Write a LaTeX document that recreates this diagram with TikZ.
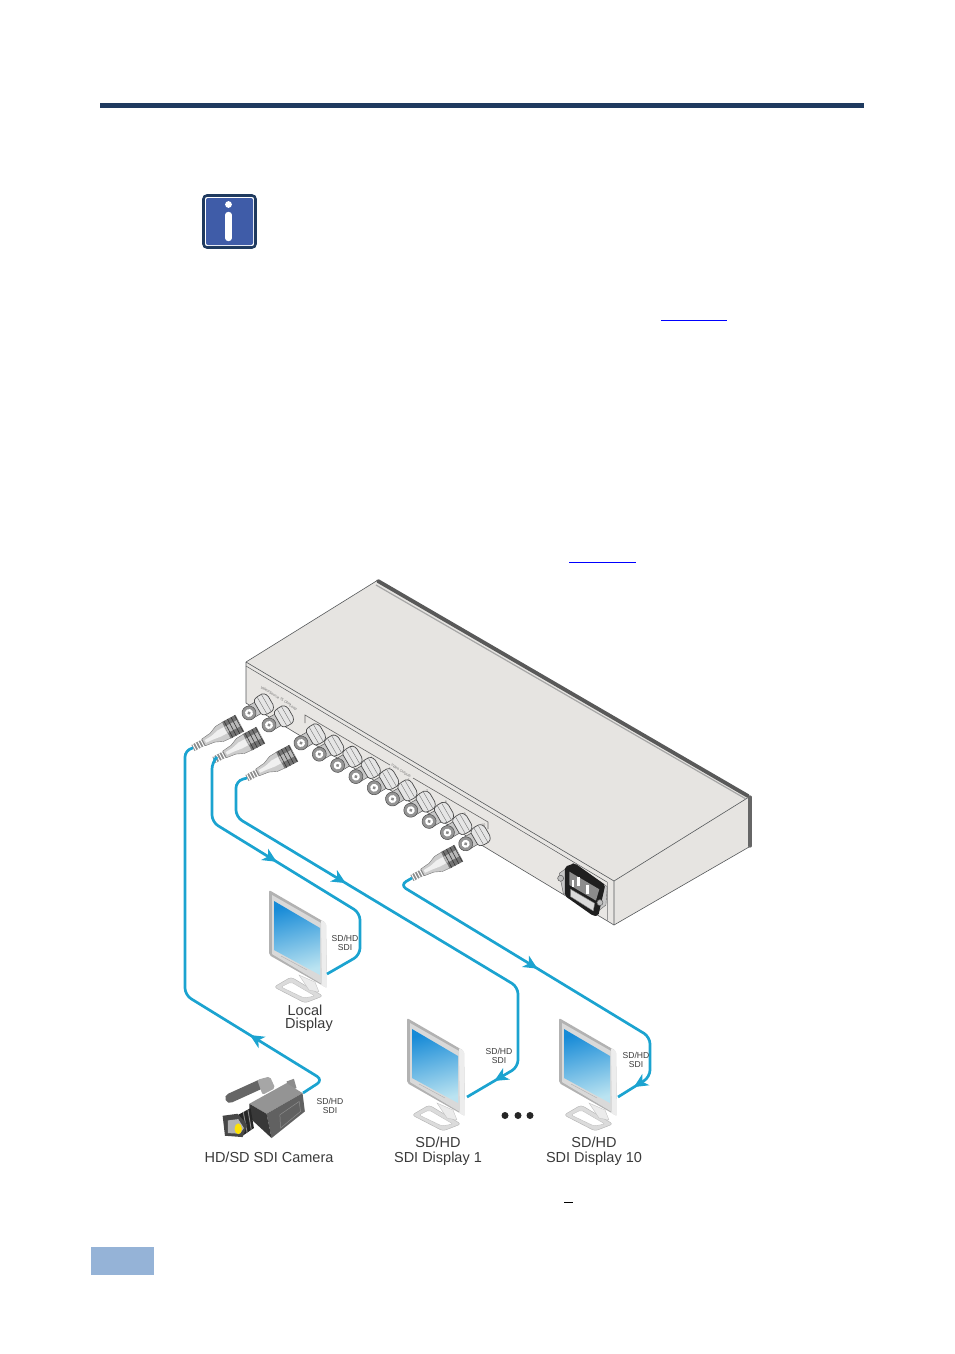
\documentclass[tikz,border=0pt]{standalone}
\usepackage{fontspec}
\setmainfont{Liberation Sans}
\usetikzlibrary{arrows.meta,decorations.markings}
\definecolor{rulenavy}{HTML}{1F3A5F}
\definecolor{iconblue}{HTML}{3F5CA8}
\definecolor{footerblue}{HTML}{95B3D7}
\definecolor{cableblue}{HTML}{1BA3D0}
\definecolor{chassis}{HTML}{E6E4E1}
\definecolor{chassisedge}{HTML}{55585A}
\definecolor{inkgrey}{HTML}{3A3A3A}
\tikzset{
  cable/.style={draw=cableblue,line width=2.7pt,rounded corners=7pt},
  flowtip/.style={postaction={decorate,decoration={markings,mark=at position #1 with {\arrow{Stealth[length=14pt,width=13pt,inset=4pt]}}}}},
  smalltag/.style={inkgrey,font=\fontsize{8.6}{8.8}\selectfont,align=center,inner sep=0pt},
  bigtag/.style={inkgrey,font=\fontsize{14.5}{15}\selectfont,align=center,inner sep=0pt},
  tinytag/.style={black!55,font=\fontsize{3.6}{4}\selectfont,inner sep=0pt},
  pics/bncport/.style={code={
    \fill[black!22,draw=black!65,line width=.5pt] (0,-6.5) -- (14,-6.5) -- (14,6.5) -- (0,6.5) -- cycle;
    \fill[black!10,draw=black!70,line width=.7pt,rounded corners=1.5pt] (10,-8) -- (14,-10) -- (22,-10) -- (25,-6) -- (25,6) -- (22,10) -- (14,10) -- (10,8) -- cycle;
    \draw[black!55,line width=.4pt] (15,-9.5) -- (15,9.5) (20,-9.5) -- (20,9.5);
    \fill[black!42,draw=black!70,line width=.5pt] (0,0) circle (7);
    \fill[white] (0,0) circle (4);
    \fill[black!45] (0,0) circle (1.8);
  }},
  pics/bncplug/.style={code={
    \fill[black!45] (0,-3.4) rectangle (13,3.4);
    \foreach \ridge in {1.5,4.5,...,12}
      \draw[white,line width=1pt] (\ridge,-3.6) -- (\ridge,3.6);
    \fill[black!20,draw=black!55,line width=.4pt] (12,-3.8) -- (22,-5) -- (30,-8.5) -- (38,-9) -- (38,9) -- (30,8.5) -- (22,5) -- (12,3.8) -- cycle;
    \fill[black!6] (14,-1.5) -- (22,-2) -- (30,-4) -- (37,-4) -- (37,3) -- (30,3) -- (22,2) -- (14,1.5) -- cycle;
    \fill[black!55] (38,-9.4) rectangle (53,9.4);
    \fill[black!28] (38,-4) rectangle (53,3);
    \foreach \ridge in {40,44,...,52}
      \draw[black!80,line width=.6pt] (\ridge,-9.4) -- (\ridge,9.4);
  }},
  pics/lcdmonitor/.style={code={
    \fill[black!14,draw=black!30,line width=.4pt,rounded corners=3pt] (5,97) -- (22,87) -- (54,106) -- (36,113) -- cycle;
    \fill[white,draw=black!25,line width=.4pt,rounded corners=2pt] (12,97) -- (22,92) -- (46,106) -- (35,108) -- cycle;
    \fill[black!8,draw=black!25,line width=.3pt] (30,85) -- (46,92) -- (50,102) -- (40,100) -- cycle;
    \fill[black!30,rounded corners=2pt] (0,0) -- (57,33) -- (58,98) -- (0,65) -- cycle;
    \fill[black!7,rounded corners=1pt] (52,30) -- (57,33) -- (58,98) -- (52,95) -- cycle;
    \fill[black!15] (3,5) -- (52,33) -- (53,94) -- (3,64) -- cycle;
    \shade[left color=cableblue!85!blue,right color=cableblue!30!white,shading angle=15] (5,11) -- (51,38) -- (51,85) -- (5,60) -- cycle;
    \draw[black!30,line width=.4pt] (12,66) -- (38,80);
  }}
}
\begin{document}
\begin{tikzpicture}[x=1pt,y=-1pt]
  \useasboundingbox (0,0) rectangle (954,1354);
  \fill[rulenavy] (100,103) rectangle (864,108);
  \draw[rulenavy,line width=2.6pt,fill=white,rounded corners=3.5pt] (203.5,195.5) rectangle (255.5,247.5);
  \fill[iconblue,rounded corners=2pt] (206,198) rectangle (253,245);
  \fill[white] (228.5,204.5) circle (3.4);
  \draw[white,line width=6.4pt,line cap=round] (228.5,215) -- (228.5,238);
  \draw[blue,line width=.9pt] (661,320) -- (727,320);
  \draw[blue,line width=.9pt] (569,562) -- (636,562);

  \fill[chassis] (246,662) -- (378,580) -- (749,797) -- (614,881) -- cycle;
  \fill[chassis!92!white] (246,662) -- (614,881) -- (614,925) -- (246,703) -- cycle;
  \fill[chassis] (614,881) -- (749,797) -- (749,847) -- (614,925) -- cycle;
  \draw[chassisedge,line width=.6pt] (246,662) -- (378,580);
  \draw[chassisedge,line width=.6pt] (246,662) -- (246,703) -- (614,925) -- (749,847);
  \draw[chassisedge,line width=.6pt] (614,881) -- (749,797);
  \draw[chassisedge,line width=.6pt] (246,662) -- (614,881) -- (614,925);
  \draw[chassisedge,line width=.5pt] (246,666) -- (607,882);
  \draw[black!40,line width=.5pt] (607,882) -- (607,921);
  \draw[black!65,line width=3.8pt,line cap=round] (378,581) -- (748,796);
  \draw[black!35,line width=1.2pt] (376,585) -- (746,799);
  \draw[black!60,line width=3.2pt,line cap=round] (750,797) -- (750,846);

  \draw[black!60,line width=.6pt] (305,723) -- (305,715) -- (390,765);
  \draw[black!60,line width=.6pt] (413,778) -- (488,822) -- (488,829);
  \node[tinytag,rotate=-31] (outlabel) at (401,771) {Video Outputs};
  \node[tinytag,rotate=-31] (inlabel) at (276,696) {Video/Source 75 Ohm};
  \node[tinytag,rotate=-31] (inlabeltwo) at (293,708) {Loop};
  \foreach \n in {1,...,10}
    \node[tinytag] (num\n) at ({315+18.7*(\n-1)},{725+11.1*(\n-1)}) {\n};

  \foreach \n in {10,9,...,1}
    \pic[rotate=30] (out\n) at ({301+18.3*(\n-1)},{743+11.2*(\n-1)}) {bncport};
  \pic[rotate=30] (intwo) at (269,725) {bncport};
  \pic[rotate=30] (inone) at (249,713) {bncport};

  \begin{scope}[shift={(530,830)},x=.333pt,y=-.333pt]
    \fill[black!22,draw=black!60,line width=.4pt] (88,130) -- (130,100) -- (232,170) -- (228,225) -- (195,252) -- (100,190) -- cycle;
    \fill[black!88,rounded corners=2pt] (105,110) -- (135,100) -- (226,165) -- (205,258) -- (190,258) -- (105,198) -- cycle;
    \fill[black!45] (118,125) -- (208,178) -- (198,212) -- (118,165) -- cycle;
    \fill[black!15,draw=black!50,line width=.4pt] (122,178) -- (194,220) -- (190,243) -- (122,200) -- cycle;
    \draw[white,line width=2.6pt] (146,142) -- (146,168) (172,166) -- (172,192);
    \draw[white,line width=2pt] (128,150) -- (128,170);
    \fill[black!25,draw=black!65,line width=.5pt] (92,145) circle (9) (210,218) circle (9);
  \end{scope}

  \pic[rotate=28] (plugone) at (193,748) {bncplug};
  \pic[rotate=28] (plugtwo) at (214,760) {bncplug};
  \pic[rotate=28] (plugthree) at (247,778) {bncplug};
  \pic[rotate=28] (plugten) at (412,878) {bncplug};

  \pic (localscreen) at (269,890) {lcdmonitor};
  \pic (screenone) at (407,1018) {lcdmonitor};
  \pic (screenten) at (559,1018) {lcdmonitor};

  \begin{scope}[shift={(170,880)},x=.333pt,y=-.333pt]
    \draw[black!60,line width=9.5pt,line cap=round] (180,655) -- (268,615);
    \fill[black!35,rounded corners=2pt] (262,600) -- (300,590) -- (316,625) -- (278,645) -- cycle;
    \fill[black!45] (350,605) -- (372,597) -- (380,625) -- (358,632) -- cycle;
    \fill[black!42] (238,672) -- (350,610) -- (398,640) -- (290,702) -- cycle;
    \fill[black!62] (290,702) -- (398,640) -- (405,695) -- (305,775) -- cycle;
    \fill[black!78] (238,672) -- (290,702) -- (305,775) -- (240,715) -- cycle;
    \draw[black!45,line width=.5pt] (330,705) -- (388,665) -- (392,695) -- (332,745) -- cycle;
    \fill[black!85] (242,685) -- (205,705) -- (215,770) -- (252,745) -- cycle;
    \draw[black!45,line width=.9pt] (220,697) -- (232,760) (234,690) -- (244,750);
    \fill[black!72] (158,708) -- (203,702) -- (232,735) -- (218,772) -- (165,768) -- cycle;
    \fill[black!30] (174,722) -- (205,718) -- (222,745) -- (210,762) -- (174,760) -- cycle;
    \fill[yellow!85!orange] (205,747) ellipse (11 and 16);
  \end{scope}

  \coordinate (camout) at (303,1093);
  \coordinate (camin) at (193,748);
  \coordinate (localin) at (214,760);
  \coordinate (localend) at (327,974);
  \coordinate (oneout) at (247,778);
  \coordinate (oneend) at (467,1097);
  \coordinate (tenout) at (412,878);
  \coordinate (tenend) at (618,1097);
  \draw[cable,flowtip=105pt] (camout) -- (323,1080) -- (185,995) -- (185,750) -- (camin);
  \draw[cable,flowtip=145pt] (localin) -- (212,762) -- (212,822) -- (360,913) -- (360,955) -- (localend);
  \draw[cable,flowtip=172pt,flowtip=478pt] (oneout) -- (236,781) -- (236,817) -- (518,987) -- (518,1067) -- (oneend);
  \draw[cable,flowtip=170pt,flowtip=358pt] (tenout) -- (400,885) -- (650,1037) -- (650,1077) -- (tenend);

  \node[smalltag] (localtag) at (345,943) {SD/HD\\SDI};
  \node[smalltag] (camtag) at (330,1106) {SD/HD\\SDI};
  \node[smalltag] (onetag) at (499,1056) {SD/HD\\SDI};
  \node[smalltag] (tentag) at (636,1060) {SD/HD\\SDI};
  \node[bigtag] (locallabel) at (305,1010) {Local};
  \node[bigtag] (displaylabel) at (309,1025) {Display};
  \node[bigtag] (camlabel) at (269,1157) {HD/SD SDI Camera};
  \node[bigtag] (onelabel) at (438,1151.5) {SD/HD\\SDI Display 1};
  \node[bigtag] (tenlabel) at (594,1151.5) {SD/HD\\SDI Display 10};
  \foreach \x in {505,518,530}
    \fill[black!85] (\x,1115.5) circle (3.5);

  \draw[black,line width=.7pt] (564,1202) -- (573,1202);
  \fill[footerblue] (91,1247) rectangle (154,1275);
\end{tikzpicture}
\end{document}
